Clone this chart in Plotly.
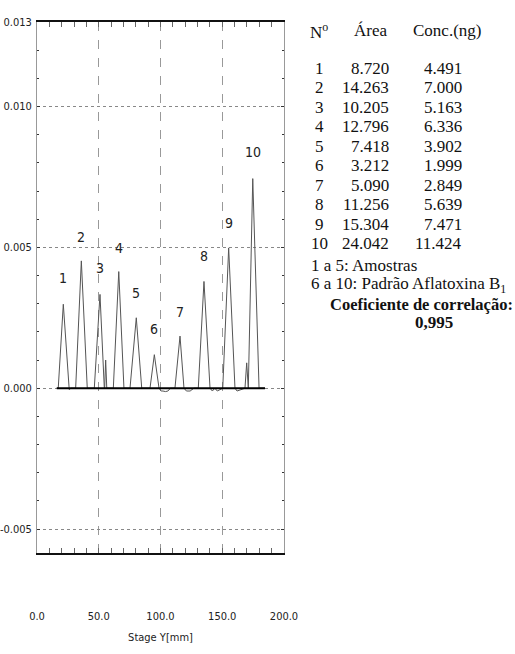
import plotly.graph_objects as go

# ---------------- data ----------------
# chromatogram signal points (Stage Y [mm], signal)
sig_x = [16.0, 17.2, 21.3, 26.1, 27.5, 31.3, 35.9, 40.7, 46.4, 51.0, 54.5, 54.8, 55.6, 56.5,
         61.8, 66.2, 70.4, 75.3, 80.4, 84.8, 91.5, 95.0, 98.8, 100.5, 102.0, 104.0, 106.0,
         108.0, 111.7, 115.8, 119.0, 121.0, 124.0, 127.0, 130.6, 135.2, 140.1, 142.0, 144.0,
         146.0, 150.4, 155.2, 160.3, 162.0, 168.4, 169.8, 171.1, 174.7, 179.8, 184.6]
sig_y = [0.0, 0.0, 0.00298, -0.00005, 0.0, 0.0, 0.00452, 0.0, 0.0, 0.00333, 0.0, 0.0, 0.00100, 0.0,
         0.0, 0.00414, 0.0, 0.0, 0.00250, 0.0, 0.0, 0.00119, 0.0, -0.0001, -0.0001, -0.00012, -0.0001,
         0.0, 0.0, 0.00185, 0.0, -0.0001, -0.0001, 0.0, 0.0, 0.00379, 0.0, -0.0001, 0.0,
         -0.0001, 0.0, 0.00498, 0.0, -0.0001, 0.0, 0.00090, 0.0, 0.00744, 0.0, 0.0]
baseline_x = [16.0, 184.6]
baseline_y = [0.0, 0.0]

peak_labels = ["1", "2", "3", "4", "5", "6", "7", "8", "9", "10"]
peak_label_x = [21.3, 35.9, 51.0, 66.2, 80.4, 95.0, 115.8, 135.2, 155.2, 174.7]
peak_label_y = [0.0039, 0.00538, 0.00428, 0.00498, 0.00338, 0.00210, 0.0027, 0.00468, 0.00585, 0.00840]

x_tickvals = [0, 50, 100, 150, 200]
x_ticktext = ["0.0", "50.0", "100.0", "150.0", "200.0"]
y_tickvals = [-0.005, 0.0, 0.005, 0.010, 0.013]
y_ticktext = ["-0.005", "0.000", "0.005", "0.010", "0.013"]

# table
tab_num = ["1", "2", "3", "4", "5", "6", "7", "8", "9", "10"]
tab_area = ["8.720", "14.263", "10.205", "12.796", "7.418", "3.212", "5.090", "11.256", "15.304", "24.042"]
tab_conc = ["4.491", "7.000", "5.163", "6.336", "3.902", "1.999", "2.849", "5.639", "7.471", "11.424"]
tab_headers = ["N<sup>o</sup>", "Área", "Conc.(ng)"]
note_lines = ["1 a 5: Amostras", "6 a 10: Padrão Aflatoxina B<sub>1</sub>"]
corr_title = "<b>Coeficiente de correlação:</b>"
corr_value = "<b>0,995</b>"

# ---------------- layout helpers ----------------
W, H = 515, 654
# plot area edges in pixels
L, R, T, B = 37, 284, 22, 553


def px(x):
    return (x - L) / (R - L)


def py(y):
    return (B - y) / (B - T)


NARROW = "DejaVu Sans Condensed, Liberation Sans Narrow, sans-serif"
SERIF = "Liberation Serif, Times New Roman, serif"
TXT = "#111111"

fig = go.Figure()
fig.add_trace(go.Scatter(x=sig_x, y=sig_y, mode="lines",
                         line=dict(color="#555555", width=1), hoverinfo="skip"))
fig.add_trace(go.Scatter(x=baseline_x, y=baseline_y, mode="lines",
                         line=dict(color="#000000", width=2), hoverinfo="skip"))

ann = []
for t, x, y in zip(peak_labels, peak_label_x, peak_label_y):
    ann.append(dict(x=x, y=y, xref="x", yref="y", text=t, showarrow=False,
                    font=dict(family=NARROW, size=14, color="#222222")))


def tab(x, y, text, anchor, size=17):
    ann.append(dict(x=px(x), y=py(y), xref="paper", yref="paper", text=text,
                    showarrow=False, xanchor=anchor, yanchor="middle",
                    font=dict(family=SERIF, size=size, color=TXT)))


tab(319, 31, tab_headers[0], "center")
tab(370, 31, tab_headers[1], "center")
tab(447, 31, tab_headers[2], "center")
for i, (n, a, c) in enumerate(zip(tab_num, tab_area, tab_conc)):
    yy = 68 + 19.5 * i
    tab(319, yy, n, "center")
    tab(391, yy, a, "right")
    tab(464, yy, c, "right")
for i, t in enumerate(note_lines):
    tab(309, 265 + 20 * i, t, "left")
tab(421, 304, corr_title, "center", 16.5)
tab(434, 323, corr_value, "center")

fig.update_layout(
    width=W, height=H, autosize=False,
    margin=dict(l=L, r=W - R, t=T, b=H - B, pad=0),
    paper_bgcolor="white", plot_bgcolor="white",
    showlegend=False,
    font=dict(family=NARROW, size=11, color="#222222"),
    annotations=ann,
    xaxis=dict(
        range=[0, 200], tickmode="array", tickvals=x_tickvals, ticktext=x_ticktext,
        showline=True, linecolor="#111111", linewidth=2, mirror="ticks",
        ticks="inside", ticklen=5, tickcolor="#666666", tickwidth=1,
        showgrid=True, gridcolor="#999999", griddash="dash", gridwidth=1,
        zeroline=False, ticklabelstandoff=52, automargin=False,
        minor=dict(tickmode="linear", tick0=0, dtick=10, ticks="inside", ticklen=5,
                   tickcolor="#666666", showgrid=False),
        tickfont=dict(family=NARROW, size=11, color="#222222"),
        title=dict(text="Stage Y[mm]", standoff=11,
                   font=dict(family=NARROW, size=11, color="#222222")),
    ),
    yaxis=dict(
        range=[-0.00585, 0.013], tickmode="array", tickvals=y_tickvals, ticktext=y_ticktext,
        showline=True, linecolor="#999999", linewidth=1, mirror="ticks",
        ticks="inside", ticklen=3, tickcolor="#333333", tickwidth=1,
        showgrid=True, gridcolor="#888888", griddash="dot", gridwidth=1,
        zeroline=False, ticklabelstandoff=2, automargin=False,
        minor=dict(tickmode="linear", tick0=0, dtick=0.001, ticks="inside", ticklen=2,
                   tickcolor="#333333", showgrid=False),
        tickfont=dict(family=NARROW, size=11, color="#222222"),
    ),
)

fig.write_html("out.html", config={"displayModeBar": False},
               post_script="document.body.style.margin='0';document.body.style.padding='0';")
